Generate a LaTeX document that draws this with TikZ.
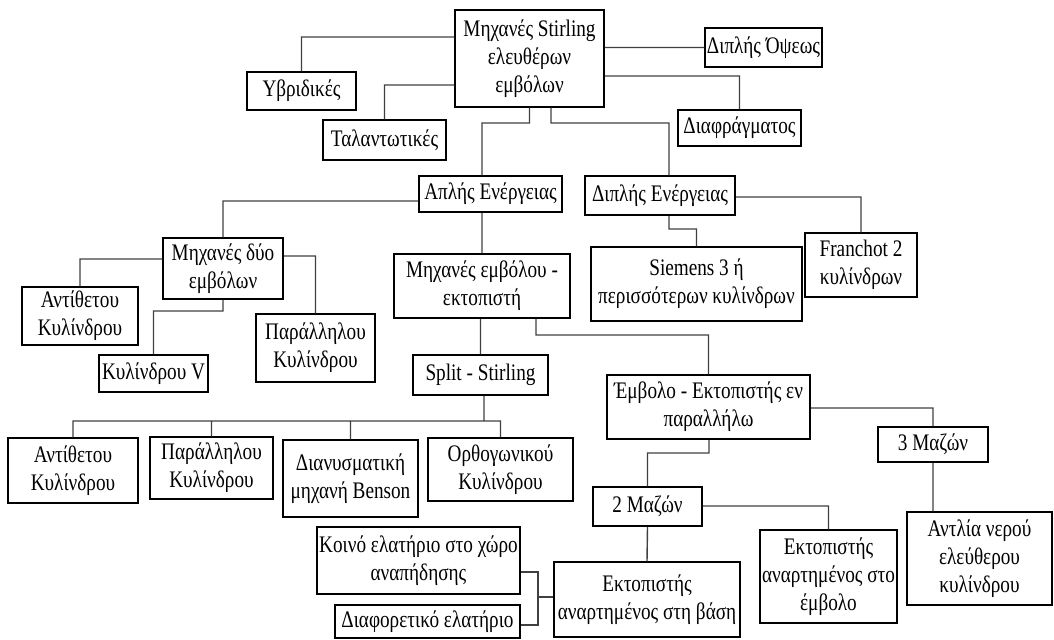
\documentclass[tikz,border=0pt]{standalone}
\usepackage{fontspec}
\setmainfont{Liberation Serif}[FakeStretch=0.81]

\begin{document}
\begin{tikzpicture}[x=0.02cm,y=-0.02cm,
	line width=0.8pt,
	block/.style 2 args = {draw, line width=0.85pt, align=center, inner sep=1pt,
		minimum width=#1*0.02cm, minimum height=#2*0.02cm,
		font=\fontsize{13.5}{15.8}\selectfont},
	link/.style = {draw=black!75},
	bold link/.style = {draw=black!75, line width=1.4pt}]
	
	\useasboundingbox (0,0) rectangle (1054,639);
	
	\node[block={149}{97}] (1) at (529.5,58.5) {Μηχανές Stirling\\ελευθέρων\\εμβόλων};
	\node[block={109}{38}] (2) at (301.5,91) {Υβριδικές};
	\node[block={123}{40}] (3) at (384.5,140) {Ταλαντωτικές};
	\node[block={117}{39}] (4) at (763.5,47.5) {Διπλής Όψεως};
	\node[block={123}{36}] (5) at (739.5,128) {Διαφράγματος};
	
	\node[block={143}{36}] (6) at (490.5,194) {Απλής Ενέργειας};
	\node[block={150}{39}] (7) at (660,195.5) {Διπλής Ενέργειας};
	\node[block={112}{64}] (8) at (861,265) {Franchot 2\\κυλίνδρων};
	\node[block={211}{74}] (9) at (696.5,284) {Siemens 3 ή\\περισσότερων κυλίνδρων};
	
	\node[block={120}{61}] (10) at (223,268.5) {Μηχανές δύο\\εμβόλων};
	\node[block={176}{64}] (11) at (482,286) {Μηχανές εμβόλου -\\εκτοπιστή};
	\node[block={116}{58}] (12) at (80,316) {Αντίθετου\\Κυλίνδρου};
	\node[block={109}{37}] (13) at (153.5,373.5) {Κυλίνδρου V};
	\node[block={119}{68}] (14) at (315.5,348) {Παράλληλου\\Κυλίνδρου};
	\node[block={135}{40}] (15) at (480.5,375) {Split - Stirling};
	
	\node[block={130}{65}] (16) at (73,470.5) {Αντίθετου\\Κυλίνδρου};
	\node[block={123}{62}] (17) at (211.5,468) {Παράλληλου\\Κυλίνδρου};
	\node[block={135}{77}] (18) at (350.5,478.5) {Διανυσματική\\μηχανή Benson};
	\node[block={145}{63}] (19) at (500.5,469.5) {Ορθογωνικού\\Κυλίνδρου};
	
	\node[block={203}{64}] (20) at (708.5,407) {Έμβολο - Εκτοπιστής εν\\παραλλήλω};
	\node[block={110}{35}] (21) at (933,444.5) {3 Μαζών};
	\node[block={145}{93}] (22) at (979.5,558.5) {Αντλία νερού\\ελεύθερου\\κυλίνδρου};
	\node[block={109}{39}] (23) at (647.5,506.5) {2 Μαζών};
	\node[block={137}{93}] (24) at (828.5,576.5) {Εκτοπιστής\\αναρτημένος στο\\έμβολο};
	\node[block={186}{75}] (25) at (647,599.5) {Εκτοπιστής\\αναρτημένος στη βάση};
	\node[block={203}{67}] (26) at (418.5,560.5) {Κοινό ελατήριο στο χώρο\\αναπήδησης};
	\node[block={185}{33}] (27) at (427.5,621.5) {Διαφορετικό ελατήριο};
	
	\coordinate (bus) at (484,421);
	\coordinate (j) at (538,597);
	
	\path[link]
	(1.west |- 0,37) -| (2.north)
	(1.west |- 0,85) -| (3.north)
	(1.east |- 4.west) -- (4.west)
	(1.east |- 0,76) -| (5.north)
	(1.south) |- (482,123) -- (6.north -| 482,0)
	(1.south -| 551,0) |- (669,123) -- (7.north -| 669,0)
	(6.west |- 0,201) -| (10.north)
	(6.south -| 482,0) -- (11.north)
	(7.south -| 669,0) |- (9.north |- 0,229) -- (9.north)
	(7.east |- 0,197) -| (8.north)
	(10.west |- 0,259) -| (12.north)
	(10.south) |- (13.north |- 0,311) -- (13.north)
	(10.east |- 0,256) -| (14.north)
	(11.south -| 15.north) -- (15.north)
	(11.south -| 536,0) |- (20.north |- 0,335) -- (20.north)
	(15.south -| bus) -- (bus)
	(16.north) |- (bus) -| (19.north)
	(17.north) -- (17.north |- bus)
	(18.north) -- (18.north |- bus)
	(20.east |- 0,408) -| (21.north)
	(21.south) -- (21.south |- 22.north)
	(20.south -| 709,0) |- (23.north |- 0,453) -- (23.north)
	(23.east |- 0,506) -| (24.north)
	(23.south) -- (25.north);
	
	\path[bold link]
	(26.east |- 0,572) -| (j)
	(27.east |- 0,625) -| (j)
	(j) -- (25.west |- j);
\end{tikzpicture}
\end{document}
